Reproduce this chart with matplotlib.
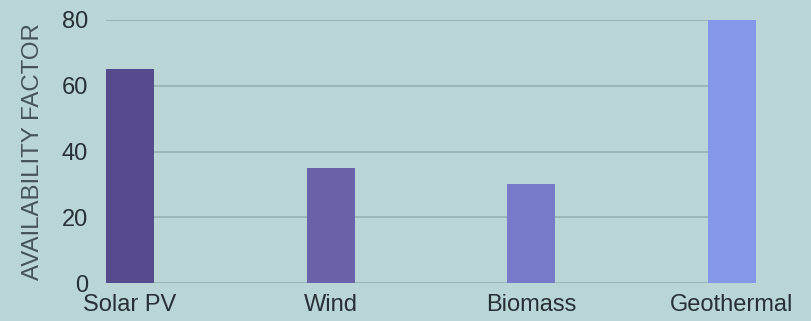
import matplotlib.pyplot as plt

categories = ["Solar PV", "Wind", "Biomass", "Geothermal"]
values = [65, 35, 30, 80]
colors = ["#564a8d", "#6961a9", "#767ac9", "#8597e9"]
yticks = [0, 20, 40, 60, 80]

bg = "#bad5d6"

plt.rcParams['font.family'] = ['Liberation Sans', 'DejaVu Sans']

fig = plt.figure(figsize=(8.12, 3.21), dpi=100, facecolor=bg)
ax = fig.add_axes([106 / 812, (321 - 283) / 321, 650 / 812, 263 / 321])
ax.set_facecolor(bg)

x = list(range(len(categories)))
width = 0.24
ax.bar(x, values, width=width, color=colors, zorder=3)

ax.set_xlim(-width / 2, len(categories) - 1 + width / 2)
ax.set_ylim(0, 80)
ax.set_yticks(yticks)
ax.set_xticks(x)
ax.set_xticklabels(categories)

ax.yaxis.grid(True, color="#97b3b4", linewidth=1.3, zorder=0)
ax.set_axisbelow(True)
for s in ax.spines.values():
    s.set_visible(False)

ax.tick_params(axis="both", length=0, labelsize=17, labelcolor="#263035")
ax.tick_params(axis="y", pad=13)
ax.tick_params(axis="x", pad=8)

ax.set_ylabel("AVAILABILITY FACTOR", fontsize=17.3, color="#45535a", labelpad=13)

fig.savefig("out.png", dpi=100, facecolor=bg)
